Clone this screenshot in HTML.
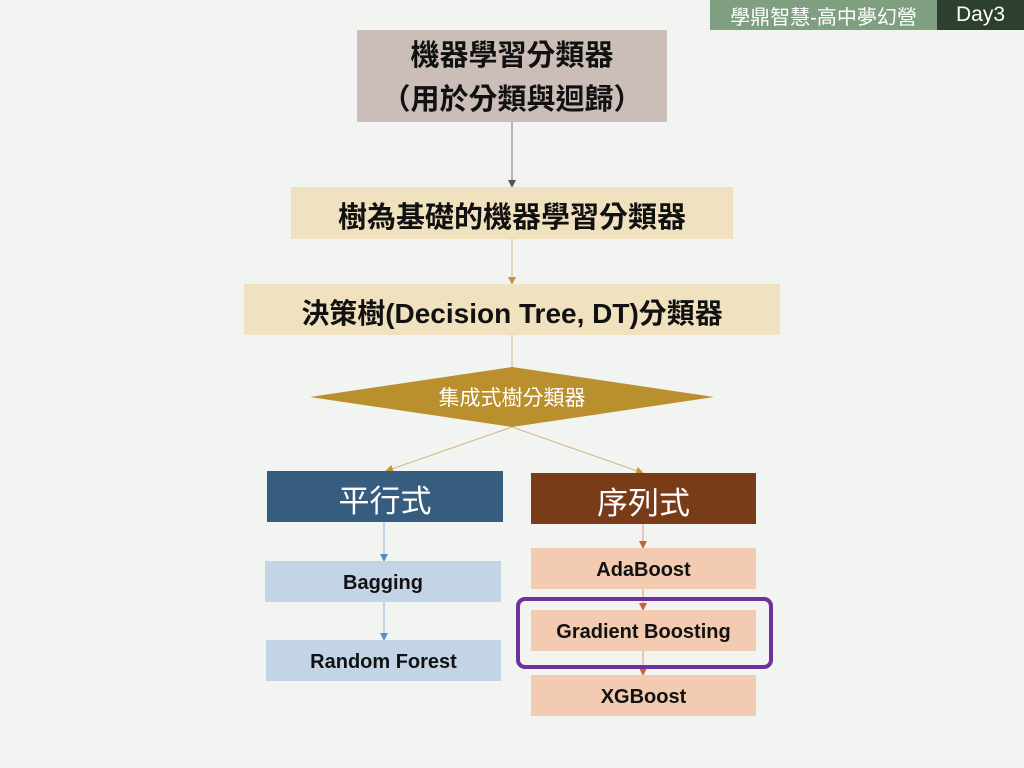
<!DOCTYPE html>
<html><head><meta charset="utf-8"><style>
body{margin:0;width:1024px;height:768px;background:#f2f4f1;position:relative;overflow:hidden;font-family:"Liberation Sans","Noto Sans CJK TC",sans-serif}
.b{position:absolute;display:flex;align-items:center;justify-content:center;text-align:center;box-sizing:border-box}
.s{padding-top:4px}
</style></head><body>
<div class="b" style="left:710px;top:0;width:227px;height:30px;background:#7f9f80;color:#fff;font-size:20px">學鼎智慧-高中夢幻營</div>
<div class="b" style="left:937px;top:0;width:87px;height:30px;background:#2d3f2e;color:#fff;font-size:21px">Day3</div>
<svg style="position:absolute;left:0;top:0" width="1024" height="768">
<defs>
<marker id="g" markerWidth="8" markerHeight="8" refX="7" refY="4" orient="auto" markerUnits="userSpaceOnUse"><path d="M0,0L8,4L0,8z" fill="#555"/></marker>
<marker id="y" markerWidth="8" markerHeight="8" refX="7" refY="4" orient="auto" markerUnits="userSpaceOnUse"><path d="M0,0L8,4L0,8z" fill="#c09a3a"/></marker>
<marker id="bl" markerWidth="8" markerHeight="8" refX="7" refY="4" orient="auto" markerUnits="userSpaceOnUse"><path d="M0,0L8,4L0,8z" fill="#5b8cc0"/></marker>
<marker id="r" markerWidth="8" markerHeight="8" refX="7" refY="4" orient="auto" markerUnits="userSpaceOnUse"><path d="M0,0L8,4L0,8z" fill="#c8643a"/></marker>
</defs>
<line x1="512" y1="122" x2="512" y2="187" stroke="#777" stroke-width="1" marker-end="url(#g)"/>
<line x1="512" y1="239" x2="512" y2="284" stroke="#d4b77a" stroke-width="1" marker-end="url(#y)"/>
<line x1="512" y1="335" x2="512" y2="368" stroke="#d4b77a" stroke-width="1"/>
<polygon points="310,397 512,367 714,397 512,427" fill="#ba8f2e"/>
<line x1="512" y1="427" x2="386" y2="471" stroke="#d4b77a" stroke-width="1" marker-end="url(#y)"/>
<line x1="512" y1="427" x2="643" y2="473" stroke="#d4b77a" stroke-width="1" marker-end="url(#y)"/>
<line x1="384" y1="522" x2="384" y2="561" stroke="#8fb0d6" stroke-width="1" marker-end="url(#bl)"/>
<line x1="384" y1="602" x2="384" y2="640" stroke="#8fb0d6" stroke-width="1" marker-end="url(#bl)"/>
<line x1="643" y1="524" x2="643" y2="548" stroke="#d99a7a" stroke-width="1" marker-end="url(#r)"/>
<line x1="643" y1="589" x2="643" y2="610" stroke="#d99a7a" stroke-width="1" marker-end="url(#r)"/>
<line x1="643" y1="651" x2="643" y2="675" stroke="#d99a7a" stroke-width="1" marker-end="url(#r)"/>
</svg>
<div class="b" style="left:357px;top:30px;width:310px;height:92px;background:#cbbdb7;color:#111;font-size:29px;line-height:44px;font-weight:bold;padding-top:4px"><div>機器學習分類器<br>（用於分類與迴歸）</div></div>
<div class="b s" style="left:291px;top:187px;width:442px;height:52px;background:#f1e2bf;color:#111;font-size:29px;font-weight:bold">樹為基礎的機器學習分類器</div>
<div class="b s" style="left:244px;top:284px;width:536px;height:51px;background:#f1e2bf;color:#111;font-size:28px;font-weight:bold">決策樹(Decision Tree, DT)分類器</div>
<div class="b" style="left:380px;top:380px;width:264px;height:34px;color:#fff;font-size:21px">集成式樹分類器</div>
<div class="b s" style="left:267px;top:471px;width:236px;height:51px;background:#365c7e;color:#fff;font-size:31px">平行式</div>
<div class="b s" style="left:531px;top:473px;width:225px;height:51px;background:#7a3c18;color:#fff;font-size:31px">序列式</div>
<div class="b s" style="left:265px;top:561px;width:236px;height:41px;background:#c3d4e6;color:#111;font-size:20px;font-weight:bold">Bagging</div>
<div class="b s" style="left:266px;top:640px;width:235px;height:41px;background:#c3d4e6;color:#111;font-size:20px;font-weight:bold">Random Forest</div>
<div class="b s" style="left:531px;top:548px;width:225px;height:41px;background:#f2cbb1;color:#111;font-size:20px;font-weight:bold">AdaBoost</div>
<div class="b s" style="left:531px;top:610px;width:225px;height:41px;background:#f2cbb1;color:#111;font-size:20px;font-weight:bold">Gradient Boosting</div>
<div class="b s" style="left:531px;top:675px;width:225px;height:41px;background:#f2cbb1;color:#111;font-size:20px;font-weight:bold">XGBoost</div>
<div style="position:absolute;left:516px;top:597px;width:249px;height:64px;border:4px solid #7030a0;border-radius:9px"></div>
</body></html>
